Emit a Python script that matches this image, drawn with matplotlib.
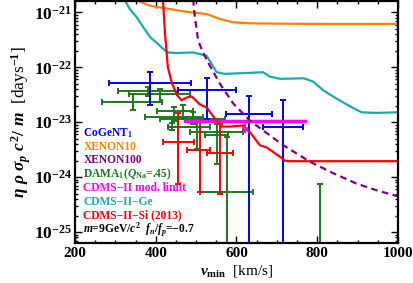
import numpy as np
import matplotlib
matplotlib.use('Agg')
import matplotlib.pyplot as plt
from matplotlib.ticker import MultipleLocator, FixedLocator, FuncFormatter, NullFormatter

plt.rcParams['font.family'] = 'Liberation Serif'
plt.rcParams['font.weight'] = 'bold'
plt.rcParams['mathtext.fontset'] = 'custom'
plt.rcParams['mathtext.rm'] = 'Liberation Serif:bold'
plt.rcParams['mathtext.it'] = 'Liberation Serif:bold:italic'
plt.rcParams['mathtext.bf'] = 'Liberation Serif:bold'

# curves: v_min [km/s] and log10 of eta*rho*sigma*c^2/m [days^-1]
xenon10_v = [350, 356, 386, 435, 477, 526, 559, 592, 633, 700, 800, 900, 1000]
xenon10_y = [-20.70, -20.79, -20.88, -20.94, -20.99, -21.03, -21.12, -21.18, -21.20, -21.205, -21.21, -21.21, -21.21]

xenon100_v = [492, 493, 497, 505, 517, 534, 559, 592, 633, 666, 716, 782, 840, 898, 947, 1000]
xenon100_y = [-20.6, -20.79, -21.09, -21.51, -21.73, -21.97, -22.30, -22.66, -22.97, -23.15, -23.42, -23.72, -23.93, -24.12, -24.24, -24.35]

ge_v = [318, 324, 336, 353, 369, 386, 402, 419, 431, 452, 493, 526, 551, 572, 666, 683, 708,
        766, 790, 815, 848, 881, 910, 947, 1000]
ge_y = [-20.70, -20.79, -20.94, -21.09, -21.27, -21.45, -21.55, -21.67, -21.73, -21.74, -21.73,
        -21.79, -22.09, -22.12, -22.09, -22.17, -22.21, -22.20, -22.26, -22.42, -22.57, -22.71,
        -22.82, -22.83, -22.82]

si_v = [417, 418, 423, 430, 440, 453, 464, 477, 489, 510, 526, 551, 563, 584, 616, 633, 658,
        675, 708, 720, 733, 1000]
si_y = [-20.6, -20.79, -21.39, -22.00, -22.29, -22.51, -22.60, -22.55, -22.53, -22.68, -22.73,
        -22.98, -23.08, -23.08, -23.06, -23.18, -23.42, -23.46, -23.63, -23.70, -23.71, -23.71]

# CoGeNT points: v, v_lo, v_hi, y, y_lo, y_hi (log10)
cogent_v = [386, 526, 632, 714]
cogent_vlo = [283, 455, 574, 666]
cogent_vhi = [487, 598, 689, 766]
cogent_y = [-22.29, -22.42, -22.85, -23.09]
cogent_ylo = [-22.68, -22.95, -26.0, -26.0]
cogent_yhi = [-22.08, -22.20, -22.53, -22.60]

# DAMA points
dama_v = [381, 411, 344, 444, 468, 440, 501, 551, 576, 493, 808]
dama_vlo = [307, 334, 267, 402, 373, 430, 485, 522, 510, 411, 808]
dama_vhi = [455, 485, 416, 493, 517, 534, 616, 579, 640, 572, 808]
dama_y = [-22.43, -22.49, -22.63, -22.80, -22.91, -23.09, -23.18, -23.24, -24.27, -22.94, -25.6]
dama_ylo = [-22.53, -22.64, -22.77, -22.98, -22.94, -23.15, -23.48, -23.77, -26.0, -23.04, -26.0]
dama_yhi = [-22.35, -22.39, -22.48, -22.73, -22.68, -23.02, -22.97, -23.03, -23.27, -22.82, -24.13]

# CDMS-II-Si data points
si_pt_v = [456, 510, 559]
si_pt_vlo = [419, 477, 526]
si_pt_vhi = [496, 534, 591]
si_pt_y = [-23.36, -23.50, -23.56]
si_pt_ylo = [-24.12, -24.27, -24.30]
si_pt_yhi = [-22.83, -22.97, -23.03]

# CDMS-II modulation limit
mod_vlo, mod_vhi = 472, 770
mod_y = -22.985
mod_arrow_v = 621
mod_arrow_y = -23.27

yticks_exp = [-25, -24, -23, -22, -21]

labels = ['CoGeNT$_1$', 'XENON10', 'XENON100', 'DAMA$_1$($Q_{\\rm Na}$=.45)',
          'CDMS\u2212II mod. limit', 'CDMS\u2212II\u2212Ge', 'CDMS\u2212II\u2212Si (2013)']
label_colors = ['#0000ff', '#ff8000', '#800080', '#1a7a1a', '#ff00ff', '#1aabab', '#ff0000']

fig = plt.figure(figsize=(4.13, 2.83), dpi=100)
ax = fig.add_axes([0.1816, 0.1424, 0.782, 0.855])


def draw_points(v, vlo, vhi, y, ylo, yhi, color):
    v = np.array(v, float)
    y = 10.0 ** np.array(y)
    xerr = [v - np.array(vlo), np.array(vhi) - v]
    yerr = [y - 10.0 ** np.array(ylo), 10.0 ** np.array(yhi) - y]
    ax.errorbar(v, y, xerr=xerr, yerr=yerr, fmt='none', ecolor=color,
                elinewidth=1.4, capsize=2.2, capthick=1.4)


draw_points(dama_v, dama_vlo, dama_vhi, dama_y, dama_ylo, dama_yhi, '#1a7a1a')
draw_points(si_pt_v, si_pt_vlo, si_pt_vhi, si_pt_y, si_pt_ylo, si_pt_yhi, '#ff0000')
draw_points(cogent_v, cogent_vlo, cogent_vhi, cogent_y, cogent_ylo, cogent_yhi, '#0000ff')

ax.plot([mod_vlo, mod_vhi], [10 ** mod_y] * 2, color='#ff00ff', lw=2.5)
ax.annotate('', xy=(mod_arrow_v, 10 ** mod_arrow_y), xytext=(mod_arrow_v, 10 ** mod_y),
            arrowprops=dict(arrowstyle='-|>', color='#ff00ff', lw=1.5, mutation_scale=7))

ax.plot(ge_v, 10.0 ** np.array(ge_y), color='#1aabab', lw=1.6)
ax.plot(xenon10_v, 10.0 ** np.array(xenon10_y), color='#ff8000', lw=1.6)
ax.plot(si_v, 10.0 ** np.array(si_y), color='#ff0000', lw=1.6)
ax.plot(xenon100_v, 10.0 ** np.array(xenon100_y), color='#800080', lw=1.6, ls=(0, (3, 2)))

ax.set_yscale('log')
ax.set_xlim(200, 1000)
ax.set_ylim(10 ** -25.194, 10 ** -20.788)

ax.xaxis.set_major_locator(MultipleLocator(200))
ax.xaxis.set_minor_locator(MultipleLocator(50))
ax.yaxis.set_major_locator(FixedLocator([10.0 ** e for e in yticks_exp]))
minor = [k * 10.0 ** e for e in range(-26, -20) for k in range(2, 10)]
minor = [m for m in minor if 10 ** -25.194 < m < 10 ** -20.788]
ax.yaxis.set_minor_locator(FixedLocator(minor))
ax.yaxis.set_minor_formatter(NullFormatter())
ax.yaxis.set_major_formatter(FuncFormatter(
    lambda val, pos: r'$\mathbf{10^{%d}}$' % int(round(np.log10(val)))))
ax.tick_params(which='both', direction='in', top=True, right=True, width=1.0)
ax.tick_params(which='major', length=5, pad=3)
ax.tick_params(axis='x', which='major', labelsize=11)
ax.tick_params(axis='y', which='major', labelsize=12.5, pad=2)
ax.tick_params(which='minor', length=2.5)
for s in ax.spines.values():
    s.set_linewidth(1.6)
for lab in ax.get_xticklabels():
    lab.set_fontweight('bold')

ax.set_xlabel(r'$v_{\rm min}$  [km/s]', fontsize=11, labelpad=2)
ax.set_ylabel(r'$\eta\ \rho\ \sigma_p\ c^2/\ m$  [days$^{-1}$]', fontsize=12.5, labelpad=1)

ypos = [0.451, 0.396, 0.341, 0.282, 0.227, 0.169, 0.114]
for t, c, yy in zip(labels, label_colors, ypos):
    ax.text(0.026, yy, t, color=c, fontsize=8.3, transform=ax.transAxes, va='center', ha='left')
ax.text(0.026, 0.052, '$m$=9GeV/$c^2$  $f_n/f_p$=\u22120.7', color='black', fontsize=8.3,
        transform=ax.transAxes, va='center', ha='left')

fig.savefig('out.png', dpi=100)
